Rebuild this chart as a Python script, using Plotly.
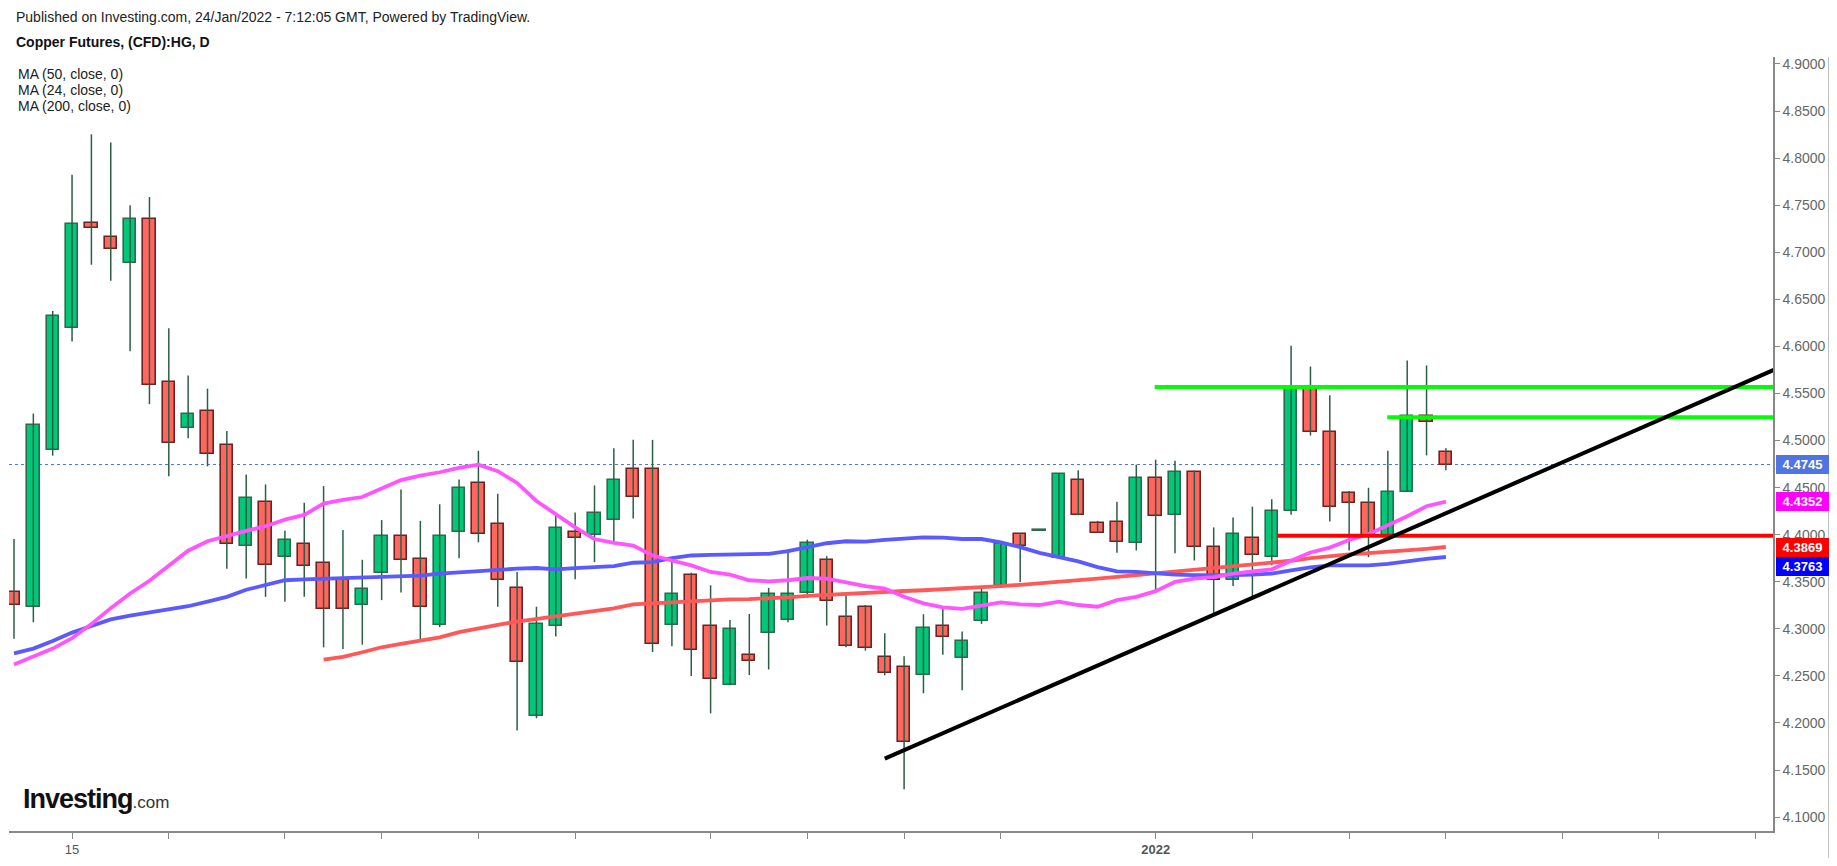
import plotly.graph_objects as go

# daily candles, index 0 = first bar on the chart (10 Nov 2021) ... 74 = 24 Jan 2022
opens = [4.3390, 4.3235, 4.4902, 4.6193, 4.7309, 4.7165, 4.6888, 4.7351, 4.5621, 4.5137,
         4.5312, 4.4955, 4.3884, 4.4347, 4.3768, 4.3902, 4.3702, 4.3523, 4.3253, 4.3597,
         4.3989, 4.3744, 4.3042, 4.4032, 4.4544, 4.4112, 4.3439, 4.2070, 4.3035, 4.4032,
         4.4000, 4.4161, 4.4702, 4.4702, 4.3046, 4.3568, 4.3032, 4.2400, 4.2719, 4.2955,
         4.3095, 4.3382, 4.3730, 4.3123, 4.3228, 4.2702, 4.2597, 4.2505, 4.3032, 4.2691,
         4.3084, 4.3453, 4.4003, 4.4042, 4.3755, 4.4586, 4.4123, 4.4137, 4.3912, 4.4597,
         4.4214, 4.4663, 4.3874, 4.3516, 4.3965, 4.3768, 4.4256, 4.5572, 4.5095, 4.4439,
         4.4333, 4.3982, 4.4453, 4.5260, 4.4874]
highs = [4.3954, 4.5287, 4.6376, 4.7824, 4.8253, 4.8165, 4.7498, 4.7586, 4.6193, 4.5691,
         4.5551, 4.5102, 4.4639, 4.4534, 4.4042, 4.4340, 4.4516, 4.4049, 4.3733, 4.4155,
         4.4481, 4.4147, 4.4323, 4.4586, 4.4891, 4.4435, 4.3603, 4.3235, 4.4200, 4.4235,
         4.4523, 4.4919, 4.5007, 4.5007, 4.3754, 4.3596, 4.3463, 4.3095, 4.3158, 4.3435,
         4.3842, 4.3947, 4.3772, 4.3376, 4.3253, 4.2954, 4.2709, 4.3155, 4.3218, 4.2972,
         4.3446, 4.3902, 4.4003, 4.4042, 4.4649, 4.4684, 4.4147, 4.4351, 4.4744, 4.4797,
         4.4786, 4.4680, 4.4077, 4.4182, 4.4298, 4.4376, 4.6007, 4.5786, 4.5481, 4.4463,
         4.4498, 4.4891, 4.5849, 4.5797, 4.4918]
lows = [4.2895, 4.3070, 4.4839, 4.6053, 4.6867, 4.6698, 4.5947, 4.5386, 4.4621, 4.5024,
        4.4726, 4.3639, 4.3534, 4.3340, 4.3288, 4.3340, 4.2803, 4.2786, 4.2832, 4.3305,
        4.3386, 4.2860, 4.3018, 4.3750, 4.3919, 4.3235, 4.1919, 4.2050, 4.2919, 4.3526,
        4.3708, 4.3926, 4.4172, 4.2754, 4.2814, 4.2498, 4.2102, 4.2400, 4.2509, 4.2568,
        4.3070, 4.3330, 4.3035, 4.2804, 4.2768, 4.2506, 4.1295, 4.2316, 4.2726, 4.2347,
        4.3053, 4.3445, 4.3498, 4.4042, 4.3755, 4.4207, 4.4018, 4.3807, 4.3832, 4.3400,
        4.3803, 4.3726, 4.3165, 4.3456, 4.3323, 4.3674, 4.4211, 4.5053, 4.4140, 4.3832,
        4.3761, 4.3940, 4.4453, 4.4842, 4.4684]
closes = [4.3250, 4.5165, 4.6323, 4.7295, 4.7260, 4.7032, 4.7351, 4.5586, 4.4979, 4.5281,
          4.4860, 4.3902, 4.4386, 4.3674, 4.3944, 4.3663, 4.3207, 4.3207, 4.3428, 4.3989,
          4.3726, 4.3228, 4.3990, 4.4491, 4.4003, 4.3516, 4.2649, 4.3049, 4.4070, 4.3965,
          4.4228, 4.4586, 4.4400, 4.2839, 4.3372, 4.2779, 4.2465, 4.2996, 4.2663, 4.3372,
          4.3372, 4.3913, 4.3295, 4.2821, 4.2797, 4.2534, 4.1797, 4.3007, 4.2912, 4.2874,
          4.3376, 4.3902, 4.3877, 4.4042, 4.4649, 4.4207, 4.4018, 4.3926, 4.4597, 4.4200,
          4.4663, 4.3874, 4.3516, 4.4007, 4.3786, 4.4256, 4.5572, 4.5095, 4.4295, 4.4333,
          4.3979, 4.4453, 4.5260, 4.5200, 4.4745]

ma24 = [4.262, 4.270, 4.279, 4.290, 4.305, 4.322, 4.3375, 4.351, 4.367, 4.383,
        4.393, 4.399, 4.404, 4.409, 4.416, 4.421, 4.433, 4.437, 4.440, 4.449,
        4.458, 4.4628, 4.4663, 4.4709, 4.4744, 4.4674, 4.455, 4.4358, 4.4218, 4.4077,
        4.3954, 4.3912, 4.3884, 4.3779, 4.3726, 4.3674, 4.3604, 4.3575, 4.3516, 4.3505,
        4.3516, 4.354, 4.3533, 4.3488, 4.3453, 4.3428, 4.334, 4.327, 4.3228, 4.3211,
        4.3246, 4.3281, 4.326, 4.3253, 4.3288, 4.3253, 4.3235, 4.3305, 4.334, 4.340,
        4.3498, 4.3533, 4.355, 4.3586, 4.3609, 4.3632, 4.3723, 4.3811, 4.3863, 4.3944,
        4.4004, 4.4098, 4.4196, 4.4302, 4.4352]
ma50 = [4.274, 4.279, 4.287, 4.296, 4.303, 4.310, 4.314, 4.317, 4.320, 4.324,
        4.3288, 4.334, 4.3415, 4.347, 4.3516, 4.3525, 4.353, 4.3537, 4.3542, 4.355,
        4.3552, 4.3565, 4.3586, 4.360, 4.3621, 4.363, 4.3639, 4.3646, 4.3632, 4.3645,
        4.3656, 4.3667, 4.3702, 4.3709, 4.3751, 4.3779, 4.3785, 4.379, 4.3793, 4.3797,
        4.3825, 4.3867, 4.3909, 4.393, 4.3926, 4.3944, 4.396, 4.3972, 4.3968, 4.3954,
        4.3954, 4.3919, 4.3867, 4.3807, 4.3761, 4.3716, 4.3656, 4.3611, 4.3604, 4.3586,
        4.3575, 4.357, 4.3568, 4.357, 4.3575, 4.3586, 4.3621, 4.3653, 4.3674, 4.3674,
        4.3674, 4.3691, 4.3719, 4.3744, 4.3763]
ma200 = [None] * 16 + [
        4.2674, 4.2702, 4.2751, 4.2804,
        4.2839, 4.2874, 4.2909, 4.2965, 4.3007, 4.3042, 4.3077, 4.3105, 4.313, 4.3165,
        4.3189, 4.3218, 4.326, 4.327, 4.3288, 4.3298, 4.3305, 4.3312, 4.3316, 4.3323,
        4.3335, 4.3351, 4.3363, 4.3375, 4.338, 4.3393, 4.3402, 4.341, 4.3419, 4.3428,
        4.344, 4.3453, 4.3467, 4.3481, 4.3498, 4.3516, 4.3533, 4.3551, 4.357, 4.3586,
        4.3609, 4.3625, 4.3642, 4.3665, 4.3688, 4.3705, 4.3723, 4.375, 4.3775, 4.379,
        4.3804, 4.3816, 4.3828, 4.385, 4.3869]

# drawn lines (bar index, price)
trend_x, trend_y = [45, 90.96], [4.1621, 4.5752]
res_hi_x, res_hi_y = [58.95, 90.96], [4.5568, 4.5568]
res_lo_x, res_lo_y = [70.97, 90.96], [4.5246, 4.5246]
sup_x, sup_y = [65.3, 90.96], [4.3989, 4.3989]
last_price = 4.4745

tick_pos = [3, 8, 14, 19, 24, 29, 36, 41, 46, 51, 59, 64, 69, 74, 80, 85, 90]
tick_txt = ["15", "", "", "", "", "", "", "", "", "", "<b>2022</b>", "", "", "", "", "", ""]
y_ticks = [4.10 + 0.05 * k for k in range(17)]

# the page body adds an 8px margin, so the figure is drawn 8px smaller / shifted
OFF = 8
W, H = 1837 - OFF, 866 - 2 * OFF
PL, PR, PT, PB = 9, 1773, 57, 838      # plot box in screen pixels
FONT = "Liberation Sans, Arial, sans-serif"


def px(x):
    return (x - PL) / (PR - PL)


def py(y):
    return (PB - y) / (PB - PT)


idx = list(range(len(opens)))
wx, wy = [], []
for i in idx:
    wx += [i, i, None]
    wy += [lows[i], highs[i], None]

up = [i for i in idx if closes[i] >= opens[i]]
dn = [i for i in idx if closes[i] < opens[i]]


def body(sel):
    base = [min(opens[i], closes[i]) for i in sel]
    hgt = [max(abs(closes[i] - opens[i]), 0.0008) for i in sel]
    return base, hgt


fig = go.Figure()
fig.add_trace(go.Scatter(x=wx, y=wy, mode="lines",
                         line=dict(color="#2c5e45", width=1.5), hoverinfo="skip"))
b, h = body(up)
fig.add_trace(go.Bar(x=up, y=h, base=b, width=0.64,
                     marker=dict(color="#00c878", line=dict(color="#2e6a4c", width=1.6))))
b, h = body(dn)
fig.add_trace(go.Bar(x=dn, y=h, base=b, width=0.64,
                     marker=dict(color="#ff675e", line=dict(color="#6e2222", width=1.6))))

fig.add_trace(go.Scatter(x=idx, y=ma200, mode="lines", line=dict(color="#ff5858", width=3.8)))
fig.add_trace(go.Scatter(x=idx, y=ma50, mode="lines", line=dict(color="#5a5aff", width=3.8)))
fig.add_trace(go.Scatter(x=idx, y=ma24, mode="lines", line=dict(color="#ff55ff", width=3.8)))

fig.add_trace(go.Scatter(x=res_hi_x, y=res_hi_y, mode="lines", line=dict(color="#00ff00", width=4)))
fig.add_trace(go.Scatter(x=res_lo_x, y=res_lo_y, mode="lines", line=dict(color="#00ff00", width=4)))
fig.add_trace(go.Scatter(x=sup_x, y=sup_y, mode="lines", line=dict(color="#ff0000", width=4)))
fig.add_trace(go.Scatter(x=trend_x, y=trend_y, mode="lines", line=dict(color="#000000", width=4)))

# last price dotted line
fig.add_shape(type="line", xref="paper", x0=0, x1=1, yref="y", y0=last_price, y1=last_price,
              line=dict(color="#4a72e6", width=1, dash="dot"), layer="below")
# frame line at far right
fig.add_shape(type="line", xref="paper", x0=px(1829.5), x1=px(1829.5), yref="paper",
              y0=py(866), y1=py(57), line=dict(color="#000000", width=1.5))

# price tags on the axis
tags = [(last_price, "#4f74e3", 0), (ma24[-1], "#ff00ff", 0),
        (ma200[-1], "#ff0000", 0), (ma50[-1], "#0000ff", -10)]
for val, col, shift in tags:
    fig.add_annotation(xref="paper", x=px(1776), xanchor="left", yref="y", y=val,
                       yshift=shift, text="<b>%.4f</b>" % val, showarrow=False,
                       bgcolor=col, width=51, height=17, borderpad=1, borderwidth=0,
                       font=dict(family=FONT, size=13, color="white"))

texts = [
    (15, 16.5, "Published on Investing.com, 24/Jan/2022 - 7:12:05 GMT, Powered by TradingView.", 14, "#222222"),
    (15, 41.7, "<b>Copper Futures, (CFD):HG, D</b>", 14, "#111111"),
    (16.5, 74, "MA (50, close, 0)", 14, "#222222"),
    (16.5, 90.7, "MA (24, close, 0)", 14, "#222222"),
    (16.5, 106.7, "MA (200, close, 0)", 14, "#222222"),
]
for x, y, t, s, c in texts:
    fig.add_annotation(xref="paper", yref="paper", x=px(x), y=py(y), xanchor="left",
                       yanchor="middle", text=t, showarrow=False, borderpad=0,
                       font=dict(family=FONT, size=s, color=c))

# logo
fig.add_annotation(xref="paper", yref="paper", x=px(21), y=py(806), xanchor="left",
                   yanchor="middle", showarrow=False,
                   text="<b><span style='font-size:27px;letter-spacing:-1px'>Investing</span></b>"
                        "<span style='font-size:17px;color:#333'>.com</span>",
                   font=dict(family="Liberation Sans Narrow, Liberation Sans, Arial", size=27,
                             color="#111111"))

fig.update_layout(
    width=W, height=H,
    margin=dict(l=PL - OFF, r=W - (PR - OFF), t=PT - OFF, b=H - (PB - OFF)),
    paper_bgcolor="white", plot_bgcolor="white",
    showlegend=False, barmode="overlay", bargap=0,
    font=dict(family=FONT, size=13, color="#555555"),
    xaxis=dict(range=[(PL - 14) / 19.35, (PR - 14) / 19.35], showgrid=False, zeroline=False,
               tickmode="array", tickvals=tick_pos, ticktext=tick_txt,
               ticks="outside", ticklen=6, tickcolor="#888888", tickwidth=1.2,
               showline=True, linecolor="#888888", linewidth=1.5,
               tickfont=dict(family=FONT, size=13, color="#555555")),
    yaxis=dict(range=[4.9 - (PB - 64) / 950, 4.9 + (64 - PT) / 950], side="right",
               showgrid=False, zeroline=False, tickmode="array", tickvals=y_ticks,
               ticktext=["%.4f" % v for v in y_ticks],
               ticks="outside", ticklen=5, tickcolor="#888888", tickwidth=1.2,
               showline=True, linecolor="#888888", linewidth=1.5,
               tickfont=dict(family=FONT, size=14, color="#666666")),
)

fig.write_html("out.html")
